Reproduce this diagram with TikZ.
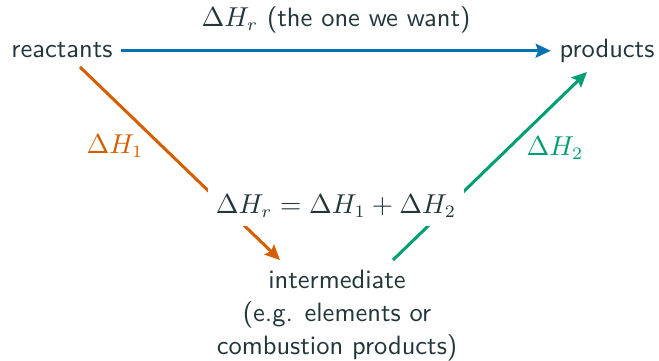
\documentclass[tikz,border=0pt]{standalone}
\usetikzlibrary{arrows.meta}
\definecolor{txt}{HTML}{23373B}
\definecolor{cblue}{HTML}{0072B2}
\definecolor{corange}{HTML}{D55E00}
\definecolor{cgreen}{HTML}{009E73}
\begin{document}
\begin{tikzpicture}[x=0.4pt,y=-0.4pt,
  every node/.style={font=\sffamily\fontsize{10.6}{13.2}\selectfont},
  lbl/.style={text=txt, text height=7pt, text depth=2pt},
  conn/.style={line width=1.2pt, -{Stealth[length=6pt,width=5.5pt,inset=1pt]}}]
\useasboundingbox (0,0) rectangle (659,360);
\node[lbl, anchor=base] (r) at (62,57) {reactants};
\node[lbl, anchor=base] (p) at (607,57) {products};
\node[text=txt, anchor=north, align=center] (i) at (337,261)
  {intermediate\\(e.g. elements or\\combustion products)};
\coordinate (o1) at (80,67);
\coordinate (o2) at (280,260);
\coordinate (g1) at (393,260);
\coordinate (g2) at (587,72);
\draw[conn, cblue] (r.east) -- node[above=3pt, text=txt] (lt) {$\Delta H_r$ (the one we want)} (p.west);
\draw[conn, corange] (o1) -- (o2);
\draw[conn, cgreen] (g1) -- (g2);
\node[text=corange] (l1) at (115,146) {$\Delta H_1$};
\node[text=cgreen] (l2) at (555,148) {$\Delta H_2$};
\node[fill=white, text=txt] (eq) at (336,206) {$\Delta H_r = \Delta H_1 + \Delta H_2$};
\end{tikzpicture}
\end{document}
